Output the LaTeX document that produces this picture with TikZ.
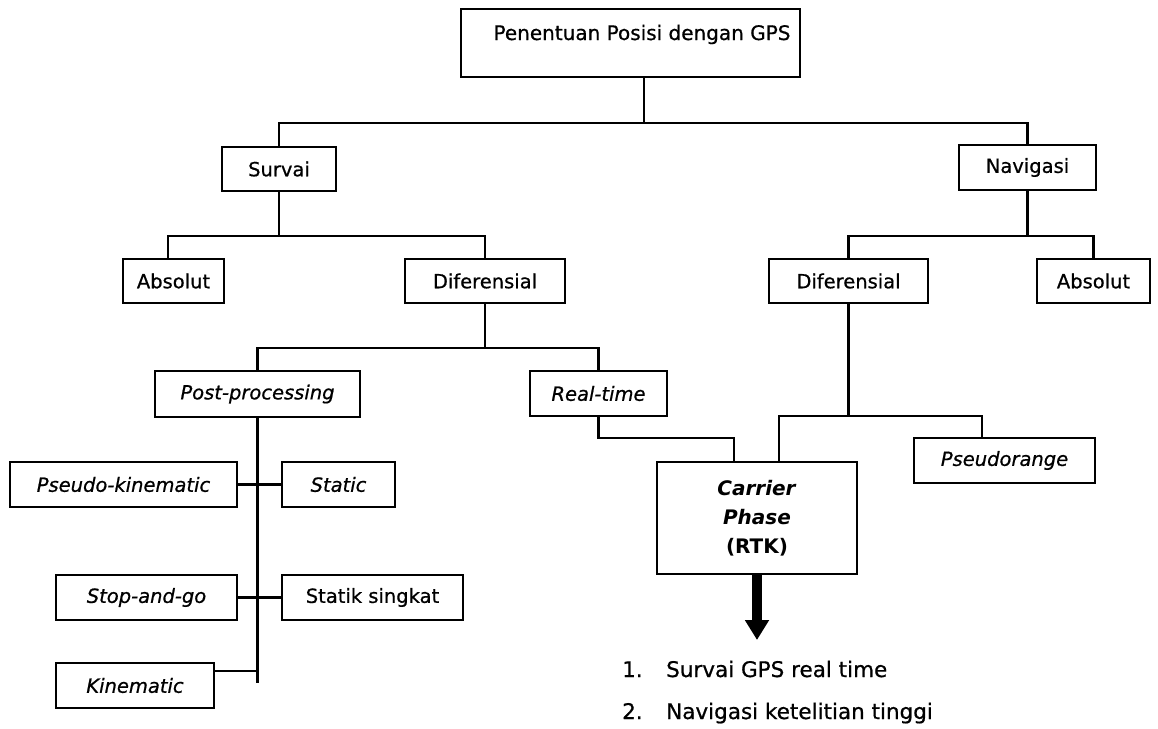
\documentclass[tikz,border=0pt]{standalone}
\usepackage{fontspec}
\setmainfont{DejaVu Sans}[UprightFeatures={FakeBold=0.7}, ItalicFeatures={FakeBold=0.7}]
\usetikzlibrary{arrows.meta}
\newcommand\fsBox{\fontsize{19.5}{23}\selectfont}
\newcommand\fsTop{\fontsize{20}{24}\selectfont}
\newcommand\fsList{\fontsize{21.5}{26}\selectfont}
\newcommand\fsCar{\fontsize{20}{29}\selectfont}
\begin{document}
\begin{tikzpicture}[x=1pt,y=-1pt,
  box/.style={draw, line width=2.8, rectangle, inner sep=0pt, font=\fsBox},
  ibox/.style={box, font=\fsBox\itshape},
  conn/.style={line width=2.6}]
\useasboundingbox (0,0) rectangle (1158,728);
\fill[white] (0,0) rectangle (1158,728);
% boxes
\node[box, minimum width=339, minimum height=68] (top) at (630.5,43) {};
\node[anchor=base, font=\fsTop, inner sep=0pt] (toptext) at (642,40) {Penentuan Posisi dengan GPS};
\node[box, minimum width=114, minimum height=44] (survai) at (279,169) {Survai};
\node[box, minimum width=137, minimum height=45] (navigasi) at (1027.5,167.5) {Navigasi};
\node[box, minimum width=101, minimum height=44] (absL) at (173.5,281) {Absolut};
\node[box, minimum width=160, minimum height=44] (difL) at (485,281) {Diferensial};
\node[box, minimum width=159, minimum height=44] (difR) at (848.5,281) {Diferensial};
\node[box, minimum width=113, minimum height=44] (absR) at (1093.5,281) {Absolut};
\node[ibox, minimum width=205, minimum height=46] (post) at (257.5,394) {Post-processing};
\node[ibox, minimum width=137, minimum height=45] (real) at (598.5,393.5) {Real-time};
\node[ibox, minimum width=227, minimum height=45] (pk) at (123.5,484.5) {Pseudo-kinematic};
\node[ibox, minimum width=113, minimum height=45] (static) at (338.5,484.5) {Static};
\node[ibox, minimum width=181, minimum height=45] (sag) at (146.5,597.5) {Stop-and-go};
\node[box, minimum width=181, minimum height=45] (ss) at (372.5,597.5) {Statik singkat};
\node[ibox, minimum width=158, minimum height=45] (kin) at (135,685.5) {Kinematic};
\node[box, minimum width=200, minimum height=112, align=center, font=\fsCar] (carrier) at (757,518)
  {\textbf{\textit{Carrier}}\\\textbf{\textit{Phase}}\\\textbf{(RTK)}};
\node[ibox, minimum width=181, minimum height=45] (pseudo) at (1004.5,460.5) {Pseudorange};
% list
\node[anchor=base west, font=\fsList, inner sep=0pt] (n1) at (622,677) {1.};
\node[anchor=base west, font=\fsList, inner sep=0pt] (t1) at (666,677) {Survai GPS real time};
\node[anchor=base west, font=\fsList, inner sep=0pt] (n2) at (622,719) {2.};
\node[anchor=base west, font=\fsList, inner sep=0pt] (t2) at (666,719) {Navigasi ketelitian tinggi};
% junctions
\coordinate (j0) at (644,123);
\coordinate (j1) at (279,236);
\coordinate (j2) at (1027.5,236);
\coordinate (j3) at (485,348);
\coordinate (pend) at (257.5,683);
\coordinate (j5) at (734,438);
\coordinate (j6) at (848.5,416);
\coordinate (c1) at (779,462);
\coordinate (aend) at (757,640);
% connectors
\draw[conn] (top.south -| j0) -- (j0);
\draw[conn] (survai.north) |- (j0) -| (navigasi.north);
\draw[conn] (survai.south) -- (j1);
\draw[conn] ([xshift=-5.5pt]absL.north) |- (j1) -| (difL.north);
\draw[conn] (navigasi.south) -- (j2);
\draw[conn] (difR.north) |- (j2) -| (absR.north);
\draw[conn] (difL.south) -- (j3);
\draw[conn] (post.north) |- (j3) -| (real.north);
\draw[conn] (post.south) -- (pend);
\draw[conn] (pk.east) -- (static.west);
\draw[conn] (sag.east) -- (ss.west);
\draw[conn] ([yshift=14.5pt]kin.east) -- ([yshift=14.5pt]kin.east -| pend);
\draw[conn] (real.south) |- (j5) -- (j5 |- carrier.north);
\draw[conn] (difR.south) -- (j6);
\draw[conn] (c1) |- (j6) -| ([xshift=-22.5pt]pseudo.north);
\draw[line width=10, -{Triangle[width=23pt,length=20pt]}] (carrier.south) -- (aend);
\end{tikzpicture}
\end{document}
